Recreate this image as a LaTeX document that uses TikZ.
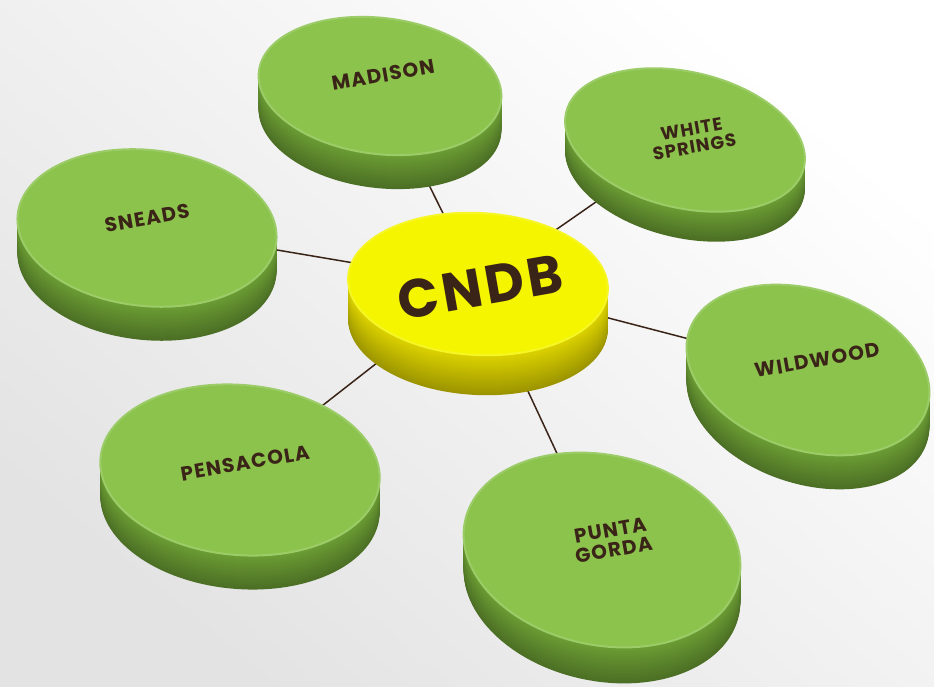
\documentclass[tikz,border=0pt]{standalone}
\usepackage{fontspec}
\newfontfamily\discfont{Poppins}[LetterSpace=6]
\usetikzlibrary{shapes.geometric}
\definecolor{topgreen}{RGB}{139,195,77}
\definecolor{sidegreen}{RGB}{108,158,52}
\definecolor{topyellow}{RGB}{245,245,0}
\definecolor{sideyellow}{RGB}{222,212,0}
\definecolor{labelbrown}{RGB}{58,36,24}
\pgfdeclarelayer{backdrop}
\pgfdeclarelayer{background}
\pgfsetlayers{backdrop,background,main}
% disc: name, x, y, x radius, y radius, tilt, thickness, top colour, side colour
\newcommand{\disc}[9]{%
  \foreach \k in {#7,...,1}{
    \pgfmathsetmacro{\mixval}{100-30*\k/#7}
    \fill[#9!\mixval!black, shift={(#2,#3-\k)}, rotate=#6] (0,0) ellipse [x radius=#4pt, y radius=#5pt];
  }
  \node[disctop, fill=#8, draw=#8!85!white, minimum width={2*#4 pt}, minimum height={2*#5 pt}, rotate=#6] (#1) at (#2,#3) {};
}

\begin{document}
\begin{tikzpicture}[x=1pt,y=1pt,
    disctop/.style={ellipse, inner sep=0pt, line width=2pt},
    disclabel/.style={font=\discfont\bfseries\fontsize{20}{20}\selectfont, text=labelbrown,
      rotate=10, align=center},
    link/.style={draw=labelbrown, line width=1.5pt}]
 \useasboundingbox (0,0) rectangle (934,687);
 \begin{pgfonlayer}{backdrop}
  \shade[shading=axis, top color=white, bottom color=black!11, shading angle=-40] (0,0) rectangle (934,687);
 \end{pgfonlayer}
 % outer discs
 \disc{madison}{380}{601}{122}{68}{-7}{34}{topgreen}{sidegreen}
 \disc{white}{685}{547}{122}{68}{-13}{30}{topgreen}{sidegreen}
 \disc{sneads}{147}{459}{130}{78}{-6}{34}{topgreen}{sidegreen}
 \disc{wildwood}{808}{317}{125}{80}{-18}{34}{topgreen}{sidegreen}
 \disc{pensacola}{240}{217}{140}{85}{-5}{34}{topgreen}{sidegreen}
 \disc{punta}{602}{137}{140}{95}{-12}{36}{topgreen}{sidegreen}
 % centre disc
 \disc{cndb}{478}{403}{130}{71}{-3}{40}{topyellow}{sideyellow}
 \node[disclabel] (madison-txt) at (383,612) {MADISON};
 \node[disclabel, font=\discfont\bfseries\fontsize{18}{18}\selectfont] (white-txt) at (693,549) {WHITE\\SPRINGS};
 \node[disclabel] (sneads-txt) at (147,469) {SNEADS};
 \node[disclabel] (wildwood-txt) at (817,327) {WILDWOOD};
 \node[disclabel] (pensacola-txt) at (245,224) {PENSACOLA};
 \node[disclabel, font=\discfont\bfseries\fontsize{20}{20}\selectfont] (punta-txt) at (612,147) {PUNTA\\GORDA};
 \node[disclabel, font=\discfont\bfseries\fontsize{54}{54}\selectfont] (cndb-txt) at (480,400) {CNDB};
 \begin{pgfonlayer}{background}
  \path[link] foreach \X in {madison,white,sneads,wildwood,pensacola,punta} {(cndb.center) edge (\X.center)};
 \end{pgfonlayer}
\end{tikzpicture}
\end{document}
